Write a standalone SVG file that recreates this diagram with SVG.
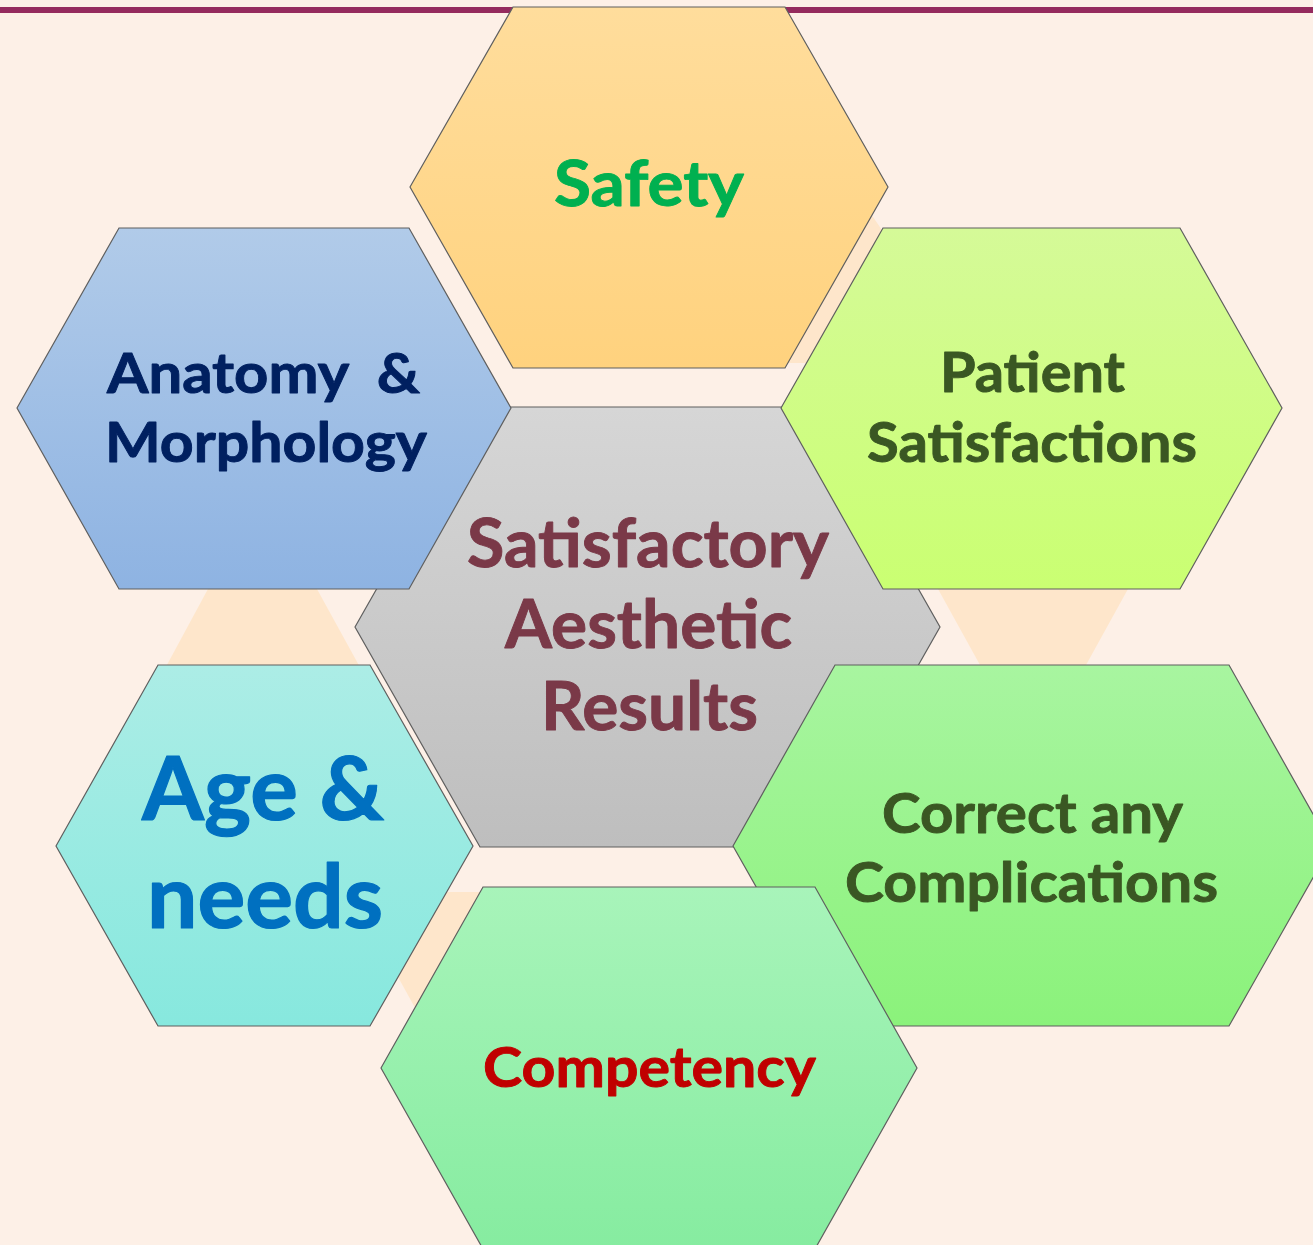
<svg xmlns="http://www.w3.org/2000/svg" width="1313" height="1245" viewBox="0 0 1313 1245">
<defs>
<style>
.hex{stroke:#5f5f5f;stroke-width:1.2}
.tri{fill:#FEE6CB}
text{font-family:"Lato","Open Sans","Liberation Sans",sans-serif;font-weight:bold;stroke-width:0.9;stroke-linejoin:round}
.dg{fill:#3A5723;stroke:#3A5723}
.cen{fill:#7A3948;stroke:#7A3948}
.nav{fill:#002060;stroke:#002060}
.blu{fill:#0070C0;stroke:#0070C0;stroke-width:1.2}
.grn{fill:#00B050;stroke:#00B050}
.red{fill:#C00000;stroke:#C00000}
</style>
<linearGradient id="gSafety" x1="0" y1="0" x2="0" y2="1"><stop offset="0" stop-color="#FFDD9C"/><stop offset="1" stop-color="#FFD27E"/></linearGradient>
<linearGradient id="gAnat" x1="0" y1="0" x2="0" y2="1"><stop offset="0" stop-color="#B1CBE9"/><stop offset="1" stop-color="#8EB3E2"/></linearGradient>
<linearGradient id="gPat" x1="0" y1="0" x2="0" y2="1"><stop offset="0" stop-color="#D5FA98"/><stop offset="1" stop-color="#CAFF72"/></linearGradient>
<linearGradient id="gCen" x1="0" y1="0" x2="0" y2="1"><stop offset="0" stop-color="#D6D6D6"/><stop offset="1" stop-color="#BEBEBE"/></linearGradient>
<linearGradient id="gAge" x1="0" y1="0" x2="0" y2="1"><stop offset="0" stop-color="#ACEDE6"/><stop offset="1" stop-color="#87E8DE"/></linearGradient>
<linearGradient id="gCor" x1="0" y1="0" x2="0" y2="1"><stop offset="0" stop-color="#A8F5A0"/><stop offset="1" stop-color="#8BF27B"/></linearGradient>
<linearGradient id="gComp" x1="0" y1="0" x2="0" y2="1"><stop offset="0" stop-color="#A8F4BA"/><stop offset="1" stop-color="#86ECA0"/></linearGradient>
</defs>
<rect x="0" y="0" width="1313" height="1245" fill="#FDF0E7"/>
<rect x="0" y="7" width="1313" height="6" fill="#952B5E"/>
<g id="connectors">
<polygon class="tri" points="262,489 378,700 148,700"/>
<polygon class="tri" points="922,560 1144,560 1033,761"/>
<polygon class="tri" points="351,892 560,892 455,1080"/>
<polygon class="tri" points="871,214 886,236 810,363 782,363"/>
</g>
<g id="center">
<polygon class="hex" fill="url(#gCen)" points="355,627 480,407 815,407 940,627 815,847 480,847"/>
<text class="cen" font-size="66" x="467" y="567" textLength="362" lengthAdjust="spacingAndGlyphs">Satisfactory</text>
<text class="cen" font-size="66" x="505" y="648" textLength="287" lengthAdjust="spacingAndGlyphs">Aesthetic</text>
<text class="cen" font-size="66" x="541" y="730" textLength="217" lengthAdjust="spacingAndGlyphs">Results</text>
</g>
<g id="safety">
<polygon class="hex" fill="url(#gSafety)" points="410,187 513,7 785,7 888,187 785,368 513,368"/>
<text class="grn" font-size="63" x="554" y="206" textLength="190" lengthAdjust="spacingAndGlyphs">Safety</text>
</g>
<g id="anatomy">
<polygon class="hex" fill="url(#gAnat)" points="17,408 119,228 409,228 511,408 409,589 119,589"/>
<text class="nav" font-size="56" x="107" y="393" textLength="313" lengthAdjust="spacingAndGlyphs" xml:space="preserve">Anatomy  &amp;</text>
<text class="nav" font-size="56" x="105" y="462" textLength="322" lengthAdjust="spacingAndGlyphs">Morphology</text>
</g>
<g id="patient">
<polygon class="hex" fill="url(#gPat)" points="781,408 883,228 1180,228 1282,408 1180,589 883,589"/>
<text class="dg" font-size="56" x="940" y="392" textLength="185" lengthAdjust="spacingAndGlyphs">Patient</text>
<text class="dg" font-size="56" x="867" y="462" textLength="330" lengthAdjust="spacingAndGlyphs">Satisfactions</text>
</g>
<g id="age">
<polygon class="hex" fill="url(#gAge)" points="56,846 158,665 370,665 473,846 370,1026 158,1026"/>
<text class="blu" font-size="88" x="142" y="820" textLength="242" lengthAdjust="spacingAndGlyphs">Age &amp;</text>
<text class="blu" font-size="88" x="147" y="928" textLength="236" lengthAdjust="spacingAndGlyphs">needs</text>
</g>
<g id="correct">
<polygon class="hex" fill="url(#gCor)" points="733,846 835,665 1229,665 1331,846 1229,1026 835,1026"/>
<text class="dg" font-size="56" x="882" y="833" textLength="301" lengthAdjust="spacingAndGlyphs">Correct any</text>
<text class="dg" font-size="56" x="845" y="902" textLength="373" lengthAdjust="spacingAndGlyphs">Complications</text>
</g>
<g id="competency">
<polygon class="hex" fill="url(#gComp)" points="381,1068 483,887 815,887 917,1068 815,1249 483,1249"/>
<text class="red" font-size="56" x="483" y="1087" textLength="333" lengthAdjust="spacingAndGlyphs">Competency</text>
</g>
</svg>
